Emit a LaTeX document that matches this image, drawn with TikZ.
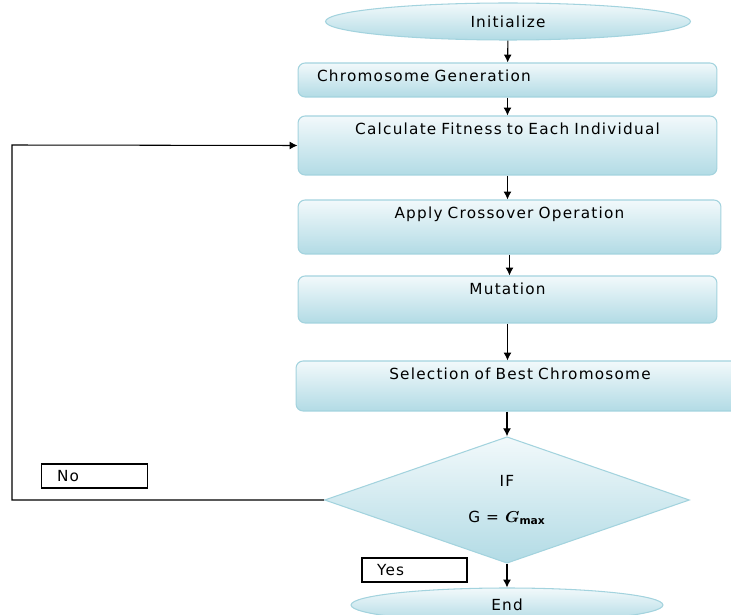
\documentclass[tikz,border=0pt]{standalone}
\usepackage{amsmath}
\usepackage{amssymb}
\usepackage{fontspec}
\setmainfont{DejaVu Sans}[LetterSpace=8]
\usepackage{tikz}
\usetikzlibrary{positioning, shapes.geometric, arrows.meta}
\definecolor{boxtop}{HTML}{F2F9FB}
\definecolor{boxbot}{HTML}{B2DBE5}
\definecolor{boxedge}{HTML}{A3D3DE}

\begin{document}
\begin{tikzpicture}[x=0.02cm, y=-0.02cm,
    proc/.style={rectangle, rounded corners=4pt, draw=boxedge, top color=boxtop, bottom color=boxbot, inner xsep=0pt, inner ysep=0pt, text height=0.37cm, align=center, font=\fontsize{8.7}{10}\selectfont},
    term/.style={ellipse, draw=boxedge, top color=boxtop, bottom color=boxbot, inner sep=0pt, font=\fontsize{8.7}{10}\selectfont},
    test/.style={diamond, draw=boxedge, top color=boxtop, bottom color=boxbot, inner sep=0pt, align=center, font=\fontsize{8.7}{10}\selectfont},
    tag/.style={rectangle, draw, fill=white, inner xsep=0.31cm, inner ysep=0pt, minimum height=0.48cm, text width=1.5cm, align=left, font=\fontsize{8.7}{10}\selectfont},
    line width=0.6pt]
\useasboundingbox (0,0) rectangle (731,615);

\node[term, minimum width=7.3cm, minimum height=0.74cm] (init) at (508,21.5) {Initialize};
\node[proc, text width=7.62cm, inner xsep=0.38cm, align=left, text depth=0.31cm] (gen) at (507.5,80) {Chromosome Generation};
\node[proc, text width=8.38cm, text depth=0.81cm] (fit) at (507.5,145.5) {Calculate Fitness to Each Individual};
\node[proc, text width=8.46cm, text depth=0.71cm] (cross) at (509.5,227) {Apply Crossover Operation};
\node[proc, text width=8.38cm, text depth=0.57cm] (mut) at (507.5,299.5) {Mutation};
\node[proc, text width=8.96cm, text depth=0.63cm] (sel) at (520,386) {Selection of Best Chromosome};
\node[test, minimum width=7.3cm, minimum height=2.3cm] (cond) at (507,500) {IF\\[0.37cm] G = $\boldsymbol{G}_{\mathbf{max}}$};
\node[term, minimum width=6.24cm, minimum height=0.68cm] (fin) at (507,605) {End};

\node[tag] (no) at (94.5,476) {No};
\node[tag, text width=1.5cm, inner xsep=0.3cm] (yes) at (414.5,570) {Yes};

\coordinate (back) at (12,145);

\draw[->, >={Latex[length=4.5pt, width=4.5pt]}] (init) -- (gen);
\draw[->, >={Latex[length=4.5pt, width=4.5pt]}] (gen) -- (fit);
\draw[->, >={Latex[length=4.5pt, width=4.5pt]}] (fit.south) -- (fit.south |- cross.north);
\draw[->, >={Latex[length=4.5pt, width=4.5pt]}] (cross.south) -- (cross.south |- mut.north);
\draw[->, >={Latex[length=4.5pt, width=4.5pt]}] (mut.south) -- (mut.south |- sel.north);
\draw[->, >={Latex[length=4.5pt, width=4.5pt]}] (cond.north |- sel.south) -- (cond.north);
\draw[->, >={Latex[length=4.5pt, width=4.5pt]}] (cond) -- (fin);
\draw[->, >={Latex[length=4.5pt, width=4.5pt]}] (cond.west) -| (back) -- (fit.west);
\end{tikzpicture}
\end{document}
